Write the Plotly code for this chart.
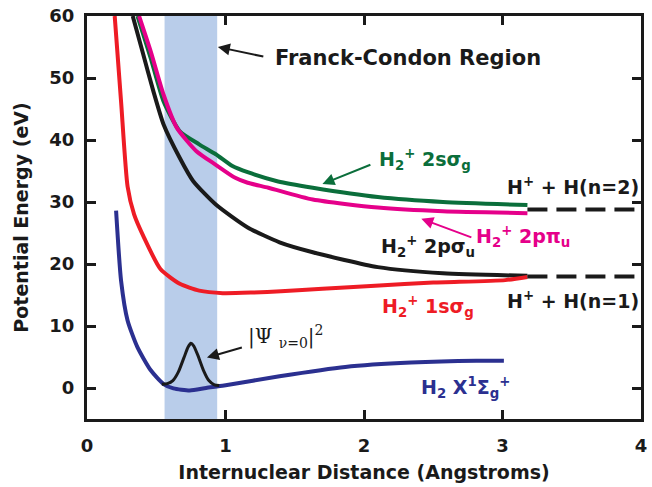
import plotly.graph_objects as go

# ---- data ----
fc_region = [0.56, 0.94]

x_1s = [0.20, 0.246, 0.293, 0.34, 0.411, 0.53, 0.67, 0.81, 0.98, 1.2, 1.4, 1.7, 2.08, 2.5, 3.02, 3.18]
y_1s = [60.0, 46.2, 32.5, 28.0, 24.3, 19.2, 16.8, 15.7, 15.3, 15.4, 15.6, 16.0, 16.5, 17.0, 17.4, 17.9]

x_2ps = [0.33, 0.40, 0.48, 0.553, 0.67, 0.766, 0.93, 1.16, 1.39, 1.63, 2.1, 2.57, 3.18]
y_2ps = [60.0, 54.3, 47.8, 42.5, 37.1, 33.4, 29.6, 25.9, 23.5, 21.9, 19.5, 18.5, 18.1]

x_2pp = [0.376, 0.46, 0.553, 0.648, 0.79, 0.93, 1.07, 1.16, 1.31, 1.63, 2.1, 2.57, 3.18]
y_2pp = [60.0, 54.3, 47.3, 42.0, 38.2, 36.0, 33.9, 33.1, 32.3, 30.4, 29.1, 28.5, 28.2]

x_2ss = [0.364, 0.46, 0.553, 0.67, 0.81, 0.93, 1.05, 1.16, 1.38, 1.63, 2.1, 2.57, 3.18]
y_2ss = [60.0, 53.2, 46.2, 41.4, 39.3, 37.7, 35.8, 34.8, 33.3, 32.3, 30.8, 30.0, 29.5]

x_X = [0.21, 0.246, 0.293, 0.364, 0.459, 0.553, 0.624, 0.742, 0.86, 0.99, 1.39, 1.865, 2.34, 2.81, 3.01]
y_X = [28.6, 17.3, 10.9, 6.6, 2.9, 0.64, -0.05, -0.4, 0.0, 0.4, 1.9, 3.4, 4.1, 4.4, 4.4]

x_psi = [0.54, 0.58, 0.62, 0.66, 0.70, 0.73, 0.75, 0.77, 0.80, 0.84, 0.88, 0.92, 0.955]
y_psi = [0.6, 0.7, 1.2, 2.6, 4.9, 6.6, 7.2, 6.8, 5.3, 2.9, 1.2, 0.5, 0.4]

x_lim = [3.18, 4.0]
y_lim_n1 = [18.0, 18.0]
y_lim_n2 = [28.8, 28.8]

FONT = "DejaVu Sans"
BLACK = "#1a1a1a"
GREEN = "#0b6e3b"
MAGENTA = "#e5008a"
RED = "#ee1c25"
NAVY = "#2b3090"

fig = go.Figure()

fig.add_vrect(x0=fc_region[0], x1=fc_region[1], fillcolor="#b9cdea",
              line_width=0, layer="below")

def curve(x, y, color, width=4, dash=None):
    fig.add_trace(go.Scatter(x=x, y=y, mode="lines",
                             line=dict(color=color, width=width, shape="spline",
                                       smoothing=0.6, dash=dash),
                             showlegend=False, hoverinfo="skip", cliponaxis=True))

curve(x_2ss, y_2ss, GREEN)
curve(x_2pp, y_2pp, MAGENTA)
curve(x_2ps, y_2ps, BLACK)
curve(x_1s, y_1s, RED)
curve(x_X, y_X, NAVY)
curve(x_psi, y_psi, BLACK, width=3)
curve(x_lim, y_lim_n1, BLACK, dash="20px,9px")
curve(x_lim, y_lim_n2, BLACK, dash="20px,9px")

def label(x, y, text, color, size=19, weight="bold", family=FONT):
    fig.add_annotation(x=x, y=y, text=text, showarrow=False, xanchor="left",
                       yanchor="middle",
                       font=dict(family=family, size=size, color=color, weight=weight))

def arrow(x0, y0, x1, y1, color):
    fig.add_annotation(x=x1, y=y1, ax=x0, ay=y0, axref="x", ayref="y",
                       text="", showarrow=True, arrowhead=2, arrowsize=1.2,
                       arrowwidth=2, arrowcolor=color)

label(1.343, 53.3, "Franck-Condon Region", BLACK, size=21)
arrow(1.284, 53.4, 0.945, 55.0, BLACK)

label(2.093, 36.8, "H<sub>2</sub><sup>+</sup> 2sσ<sub>g</sub>", GREEN)
arrow(2.057, 36.1, 1.70, 32.9, GREEN)

label(3.021, 32.6, "H<sup>+</sup> + H(n=2)", BLACK)
label(2.105, 22.9, "H<sub>2</sub><sup>+</sup> 2pσ<sub>u</sub>", BLACK)
label(2.793, 24.5, "H<sub>2</sub><sup>+</sup> 2pπ<sub>u</sub>", MAGENTA)
arrow(2.786, 24.2, 2.414, 27.3, MAGENTA)

label(3.021, 14.2, "H<sup>+</sup> + H(n=1)", BLACK)
label(2.114, 13.2, "H<sub>2</sub><sup>+</sup> 1sσ<sub>g</sub>", RED)
label(2.40, 0.1, "H<sub>2</sub> X<sup>1</sup>Σ<sub>g</sub><sup>+</sup>", NAVY)

label(1.15, 8.3, "|Ψ <sub>ν=0</sub>|<sup>2</sup>", BLACK, size=20, weight="normal",
      family="DejaVu Serif")
arrow(1.129, 6.6, 0.866, 4.9, BLACK)

axis_common = dict(showline=True, linewidth=3, linecolor=BLACK, mirror="ticks",
                   ticks="inside", ticklen=9, tickwidth=3, tickcolor=BLACK,
                   showgrid=False, zeroline=False,
                   tickfont=dict(family=FONT, size=18, color=BLACK, weight="bold"))

fig.update_xaxes(range=[0, 4], dtick=1, tick0=0, ticklabelstandoff=8,
                 title=dict(text="Internuclear Distance (Angstroms)", standoff=12,
                            font=dict(family=FONT, size=19, color=BLACK, weight="bold")),
                 **axis_common)
fig.update_yaxes(range=[-5, 60], dtick=10, tick0=0, ticklabelstandoff=6,
                 title=dict(text="Potential Energy (eV)", standoff=16,
                            font=dict(family=FONT, size=19, color=BLACK, weight="bold")),
                 **axis_common)

fig.update_layout(width=652, height=487, margin=dict(l=87, r=5, t=14, b=68),
                  plot_bgcolor="white", paper_bgcolor="white", showlegend=False)

fig.write_html("out.html")
